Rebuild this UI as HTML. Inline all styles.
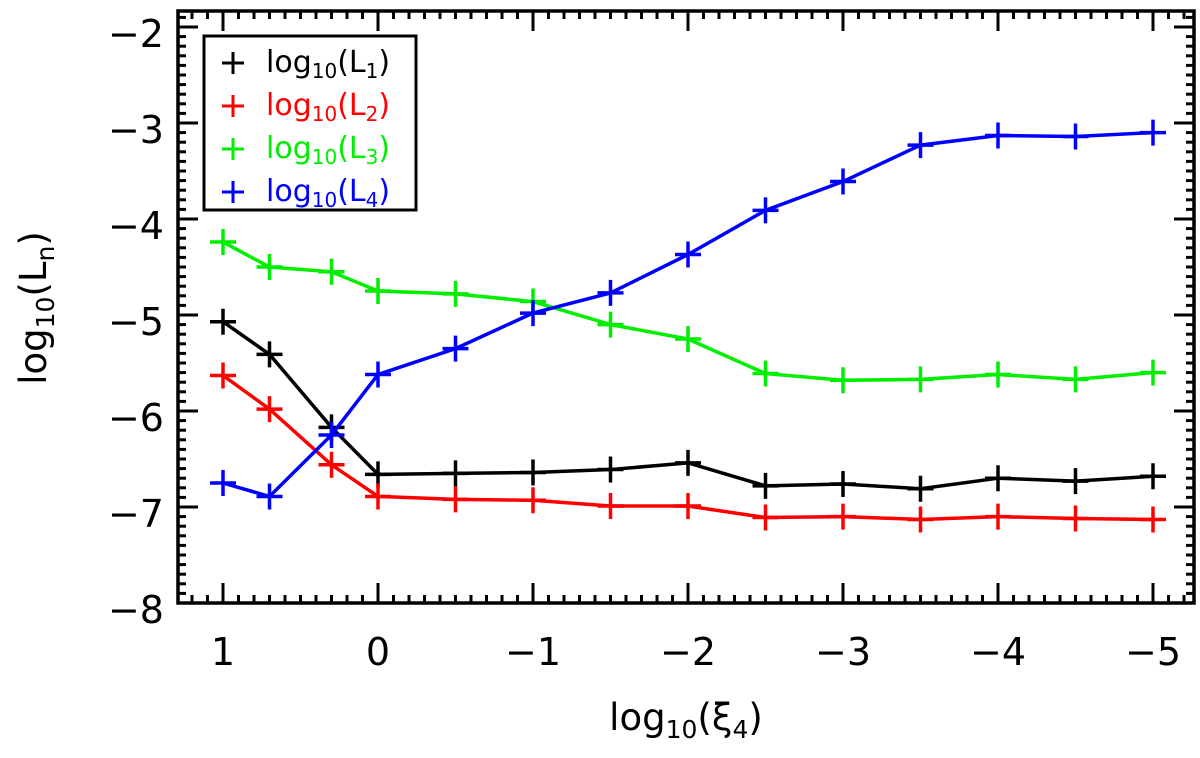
<!DOCTYPE html>
<html><head><meta charset="utf-8"><style>
body{margin:0;background:#fff}
svg text{font-family:"DejaVu Sans","Liberation Sans",sans-serif}
</style></head><body>
<svg id="chart" width="1200" height="753" xmlns="http://www.w3.org/2000/svg">
<g id="grid"></g>
<g id="series"></g>
<rect x="178" y="11" width="1016" height="592" fill="none" stroke="#000" stroke-width="3.5"/>
<g id="ticks"></g>
<text transform="translate(46,308) rotate(-90)" text-anchor="middle" font-size="37">log<tspan font-size="25" dy="8">10</tspan><tspan dy="-8">(L</tspan><tspan font-size="25" dy="8">n</tspan><tspan dy="-8">)</tspan></text>
<text x="686" y="730" text-anchor="middle" font-size="37">log<tspan font-size="25" dy="8">10</tspan><tspan dy="-8">(ξ</tspan><tspan font-size="25" dy="8">4</tspan><tspan dy="-8">)</tspan></text>
<g>
<rect x="204" y="36" width="212" height="174" fill="#fff" stroke="#000" stroke-width="3"/>
<g id="legend-items"></g>
</g>
</svg>
<script>
const xValues = [1, 0.7, 0.3, 0, -0.5, -1, -1.5, -2, -2.5, -3, -3.5, -4, -4.5, -5];
const seriesL1 = [-5.07, -5.41, -6.17, -6.66, -6.65, -6.64, -6.61, -6.54, -6.78, -6.76, -6.81, -6.70, -6.73, -6.68];
const seriesL2 = [-5.63, -5.98, -6.56, -6.89, -6.92, -6.93, -6.99, -6.99, -7.11, -7.10, -7.13, -7.10, -7.12, -7.13];
const seriesL3 = [-4.24, -4.50, -4.55, -4.75, -4.78, -4.86, -5.10, -5.25, -5.61, -5.68, -5.67, -5.62, -5.67, -5.60];
const seriesL4 = [-6.75, -6.89, -6.25, -5.62, -5.35, -4.98, -4.77, -4.37, -3.91, -3.61, -3.23, -3.13, -3.14, -3.10];
const xTicks = [1, 0, -1, -2, -3, -4, -5];
const xTickLabels = ["1", "0", "\u22121", "\u22122", "\u22123", "\u22124", "\u22125"];
const yTicks = [-2, -3, -4, -5, -6, -7, -8];
const yTickLabels = ["\u22122", "\u22123", "\u22124", "\u22125", "\u22126", "\u22127", "\u22128"];
const seriesNames = ["1", "2", "3", "4"];
const colors = ["#000", "#f00", "#0e0", "#00f"];

const NS = "http://www.w3.org/2000/svg";
const X0 = 178, X1 = 1194, Y0 = 11, Y1 = 603;
const xs = v => 223 + (1 - v) * 155;
const ys = v => 603 - (v + 8) * 96;
function mk(tag, attrs, parent) { const e = document.createElementNS(NS, tag); for (const k in attrs) e.setAttribute(k, attrs[k]); parent.appendChild(e); return e; }

const tg = document.getElementById("ticks");
for (let i = 13; i >= -53; i--) {
  const v = i / 10, x = xs(v);
  if (x <= X0 + 1 || x >= X1 - 1) continue;
  const major = i % 10 === 0, L = major ? 20 : 8;
  const t1 = mk("line", { x1: x, x2: x, y1: Y1, y2: Y1 - L, stroke: "#000", "stroke-width": 3 }, tg);
  
  
  const t2 = mk("line", { x1: x, x2: x, y1: Y0, y2: Y0 + L, stroke: "#000", "stroke-width": 3 }, tg);
  
  
}
for (let i = -80; i <= -18; i++) {
  const v = i / 10, y = ys(v);
  if (y <= Y0 + 1 || y >= Y1 - 1) continue;
  const major = i % 10 === 0, L = major ? 20 : 8;
  const t1 = mk("line", { y1: y, y2: y, x1: X0, x2: X0 + L, stroke: "#000", "stroke-width": 3 }, tg);
  
  
  const t2 = mk("line", { y1: y, y2: y, x1: X1, x2: X1 - L, stroke: "#000", "stroke-width": 3 }, tg);
  
  
}
xTicks.forEach((v, i) => {
  const t = mk("text", { x: xs(v), y: 665, "text-anchor": "middle", "font-size": 38 }, tg);
  t.textContent = xTickLabels[i];
  
  
});
yTicks.forEach((v, i) => {
  const t = mk("text", { x: 164, y: ys(v) + 20, "text-anchor": "end", "font-size": 38 }, tg);
  t.textContent = yTickLabels[i];
  
  
});

const sg = document.getElementById("series");
[seriesL1, seriesL2, seriesL3, seriesL4].forEach((arr, si) => {
  const g = mk("g", {}, sg);
  
  
  const pl = mk("polyline", { points: arr.map((v, i) => xs(xValues[i]) + "," + ys(v)).join(" "), fill: "none", stroke: colors[si], "stroke-width": 3.5 }, g);
  
  
  arr.forEach((v, i) => {
    const x = xs(xValues[i]), y = ys(v);
    const p = mk("path", { d: `M${x - 13},${y}H${x + 13}M${x},${y - 13}V${y + 13}`, stroke: colors[si], "stroke-width": 3.5, fill: "none" }, g);
    
    
  });
});

const lg = document.getElementById("legend-items");
seriesNames.forEach((n, i) => {
  const y = 72 + i * 43;
  const g = mk("g", {}, lg);
  
  
  mk("path", { d: `M222,${y - 9}H244M233,${y - 20}V${y + 2}`, stroke: colors[i], "stroke-width": 3 }, g);
  const t = mk("text", { x: 266, y: y, "font-size": 30, fill: colors[i] }, g);
  t.innerHTML = 'log<tspan font-size="20" dy="6">10</tspan><tspan dy="-6">(L</tspan><tspan font-size="20" dy="6">' + n + '</tspan><tspan dy="-6">)</tspan>';
});
</script>
</body></html>
